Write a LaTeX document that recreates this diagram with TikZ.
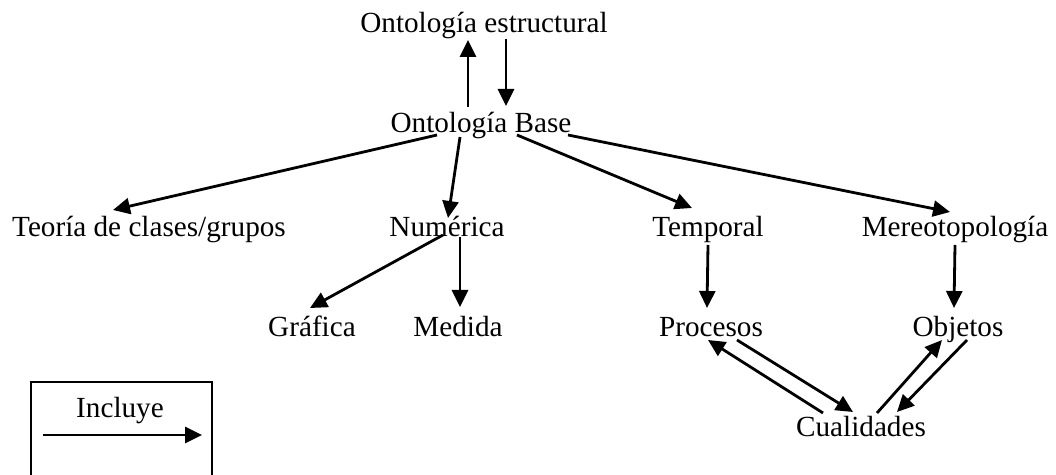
\documentclass[tikz,border=0pt]{standalone}
\usepackage{fontspec}
\setmainfont{Liberation Serif}
\usetikzlibrary{arrows.meta,calc}
\begin{document}
\begin{tikzpicture}[x=0.5pt,y=-0.5pt,
  lbl/.style={inner sep=0pt,anchor=base,font=\fontsize{14.6}{17}\selectfont},
  inc/.style={line width=1.4pt,-{Triangle[length=8.5pt,width=8pt]}}]
\clip (0,0) rectangle (1056,475);
\fill[white] (0,0) rectangle (1056,475);

% concepts
\node[lbl] (estr)   at (484,33)  {Ontología estructural};
\node[lbl] (base)   at (481,133) {Ontología Base};
\node[lbl] (teoria) at (149,237) {Teoría de clases/grupos};
\node[lbl] (num)    at (447,237) {Numérica};
\node[lbl] (temp)   at (708,237) {Temporal};
\node[lbl] (mereo)  at (955,237) {Mereotopología};
\node[lbl] (graf)   at (312,337) {Gráfica};
\node[lbl] (med)    at (458,337) {Medida};
\node[lbl] (proc)   at (711,337) {Procesos};
\node[lbl] (obj)    at (958,337) {Objetos};
\node[lbl] (cual)   at (861,437) {Cualidades};

% inclusion relations
\draw[inc] ($(base.base)+(-13,-26)$) -- ($(estr.base)+(-16,7)$);
\draw[inc] ($(estr.base)+(22,6)$) -- ($(base.base)+(25,-27)$);
\draw[inc] ($(base.base)+(-44,2)$) -- ($(teoria.base)+(-36,-27)$);
\draw[inc] ($(base.base)+(-21,4)$) -- ($(num.base)+(1,-19)$);
\draw[inc] ($(base.base)+(36,2)$) -- ($(temp.base)+(-16,-29)$);
\draw[inc] ($(base.base)+(87,2)$) -- ($(mereo.base)+(-5,-25)$);
\draw[inc] ($(num.base)+(-4,-2)$) -- ($(graf.base)+(-2,-29)$);
\draw[inc] ($(num.base)+(13,0)$) -- ($(med.base)+(2,-30)$);
\draw[inc] ($(temp.base)+(0,8)$) -- ($(proc.base)+(-4,-29)$);
\draw[inc] ($(mereo.base)+(0,8)$) -- ($(obj.base)+(-4,-29)$);
\draw[inc] ($(cual.base)+(-38,-24)$) -- ($(proc.base)+(-3,3)$);
\draw[inc] ($(proc.base)+(26,3)$) -- ($(cual.base)+(-8,-25)$);
\draw[inc] ($(cual.base)+(16,-24)$) -- ($(obj.base)+(-16,3)$);
\draw[inc] ($(obj.base)+(9,3)$) -- ($(cual.base)+(36,-25)$);

% legend
\draw[line width=0.8pt] (31,382) rectangle (212,500);
\node[lbl] (incl) at (120,418) {Incluye};
\draw[inc] ($(incl.base)+(-77,17)$) -- ($(incl.base)+(82,17)$);
\end{tikzpicture}
\end{document}
